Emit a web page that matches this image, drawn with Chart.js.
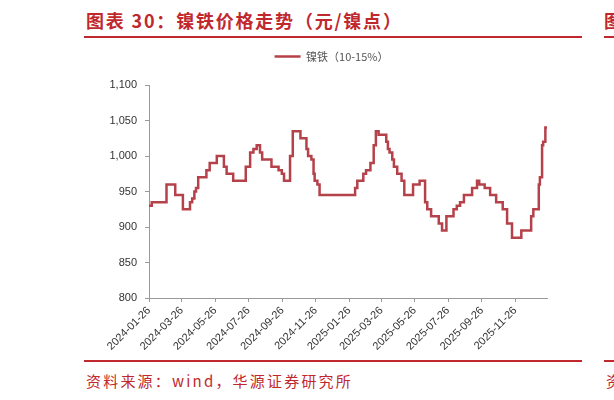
<!DOCTYPE html>
<html>
<head>
<meta charset="utf-8">
<script src="https://cdn.jsdelivr.net/npm/chart.js@4.4.1/dist/chart.umd.min.js"></script>
<style>
  html, body { margin: 0; padding: 0; background: #fff; }
  body { width: 614px; height: 400px; position: relative; overflow: hidden; }
  .title { position: absolute; left: 86px; top: 7px; font-family: "Noto Sans CJK SC", sans-serif; font-size: 18px; font-weight: 700; letter-spacing: 1.8px; color: #c0282e; white-space: nowrap; }
  .rule { position: absolute; height: 2px; background: #c0282e; }
  .source { position: absolute; left: 86px; top: 370px; font-family: "Noto Sans CJK SC", sans-serif; font-size: 15px; letter-spacing: 2.2px; color: #c0282e; white-space: nowrap; }
  #wrap { position: absolute; left: 0; top: 40px; width: 614px; height: 320px; }
</style>
</head>
<body>
<div class="title">图表 30：镍铁价格走势（元/镍点）</div>
<div class="rule" style="left:84px; top:36px; width:498px;"></div>
<div class="title" style="left:604px;">图表 31</div>
<div class="rule" style="left:604px; top:36px; width:20px;"></div>
<div id="wrap"><canvas id="chart"></canvas></div>
<div class="rule" style="left:84px; top:360px; width:498px;"></div>
<div class="rule" style="left:604px; top:360px; width:20px;"></div>
<div class="source">资料来源：wind，华源证券研究所</div>
<div class="source" style="left:606px;">资料来源</div>
<script>
const seriesName = '镍铁（10-15%）';

// price change dates and the price from that date on
const changeDates = [
  '2024-01-26', '2024-01-31', '2024-02-27', '2024-03-14', '2024-03-28', '2024-04-10',
  '2024-04-14', '2024-04-18', '2024-04-21', '2024-04-25', '2024-05-10', '2024-05-16',
  '2024-05-29', '2024-06-11', '2024-06-16', '2024-06-28', '2024-07-21', '2024-07-29',
  '2024-08-04', '2024-08-10', '2024-08-16', '2024-08-20', '2024-09-06', '2024-09-19',
  '2024-09-25', '2024-09-29', '2024-10-10', '2024-10-15', '2024-10-29', '2024-11-09',
  '2024-11-12', '2024-11-18', '2024-11-22', '2024-11-24', '2024-11-29', '2024-12-03',
  '2025-02-06', '2025-02-10', '2025-02-21', '2025-02-26', '2025-03-06', '2025-03-12',
  '2025-03-16', '2025-03-21', '2025-04-04', '2025-04-07', '2025-04-10', '2025-04-15',
  '2025-04-18', '2025-04-24', '2025-05-02', '2025-05-07', '2025-05-23', '2025-06-04',
  '2025-06-14', '2025-06-18', '2025-06-25', '2025-07-09', '2025-07-15', '2025-07-23',
  '2025-08-05', '2025-08-11', '2025-08-17', '2025-08-24', '2025-09-08', '2025-09-17',
  '2025-09-21', '2025-10-01', '2025-10-11', '2025-10-22', '2025-11-03', '2025-11-11',
  '2025-11-20', '2025-12-07', '2025-12-25', '2025-12-29', '2026-01-08', '2026-01-10',
  '2026-01-14', '2026-01-16', '2026-01-20', '2026-01-23'
];
const prices = [
  930, 935, 960, 945, 925, 935,
  940, 950, 955, 970, 980, 990,
  1000, 985, 975, 965, 985, 1005,
  1010, 1015, 1005, 995, 985, 980,
  975, 965, 1000, 1035, 1025, 1010,
  1000, 995, 975, 965, 960, 945,
  955, 965, 975, 980, 990, 1015,
  1035, 1030, 1020, 1010, 1005, 995,
  985, 975, 965, 945, 960, 965,
  935, 925, 915, 905, 895, 915,
  925, 930, 935, 945, 955, 965,
  960, 955, 945, 935, 925, 905,
  885, 895, 915, 925, 960, 970,
  1015, 1020, 1040, 1040
];

const tickLabels = [
  '2024-01-26', '2024-03-26', '2024-05-26', '2024-07-26', '2024-09-26', '2024-11-26',
  '2025-01-26', '2025-03-26', '2025-05-26', '2025-07-26', '2025-09-26', '2025-11-26'
];
const yTicks = [800, 850, 900, 950, 1000, 1050, 1100];

const startDate = tickLabels[0];
function dayNum(s) {
  const [a, b] = [s, startDate].map(d => {
    const p = d.split('-').map(Number);
    return Date.UTC(p[0], p[1] - 1, p[2]);
  });
  return Math.round((a - b) / 86400000);
}

const points = changeDates.map((d, i) => ({ x: dayNum(d), y: prices[i] }));
const tickDays = tickLabels.map(dayNum);
const lastDay = dayNum(changeDates[changeDates.length - 1]);

const axisColor = '#9a9a9a';
const tickFont = { family: '"Liberation Sans", Arial, sans-serif', size: 11 };

// legend sits a bit right of centre and closer to the top than the plot
const legendOffset = {
  id: 'legendOffset',
  afterLayout(chart) {
    const lg = chart.legend;
    lg.left += 58; lg.right += 58;
    lg.top -= 13; lg.bottom -= 13;
  }
};

new Chart(document.getElementById('chart'), {
  type: 'line',
  data: {
    datasets: [{
      label: seriesName,
      data: points,
      stepped: 'before',
      borderColor: '#b5424a',
      backgroundColor: '#b5424a',
      borderWidth: 2.5,
      pointRadius: 0,
      pointStyle: 'line',
      fill: false
    }]
  },
  options: {
    responsive: true,
    maintainAspectRatio: false,
    animation: false,
    layout: { padding: { left: 0, right: 67, top: 14, bottom: 0 } },
    plugins: {
      legend: {
        display: true,
        position: 'top',
        labels: {
          usePointStyle: true,
          pointStyleWidth: 26,
          color: '#555',
          font: { family: '"Noto Sans CJK SC", sans-serif', size: 11 },
          padding: 10
        }
      },
      tooltip: { enabled: false }
    },
    scales: {
      x: {
        type: 'linear',
        min: 0,
        max: lastDay,
        afterBuildTicks: s => { s.ticks = tickDays.map(v => ({ value: v })); },
        afterFit: s => { s.height = 62; },
        border: { color: axisColor, width: 1 },
        grid: { drawOnChartArea: false, drawTicks: true, tickLength: 4, color: axisColor },
        ticks: {
          autoSkip: false,
          maxRotation: 45,
          minRotation: 45,
          color: '#333',
          font: tickFont,
          padding: 2,
          callback: v => tickLabels[tickDays.indexOf(v)]
        }
      },
      y: {
        min: 800,
        max: 1100,
        afterBuildTicks: s => { s.ticks = yTicks.map(v => ({ value: v })); },
        afterFit: s => { s.width = 149; },
        border: { color: axisColor, width: 1 },
        grid: { drawOnChartArea: false, drawTicks: true, tickLength: 4, color: axisColor },
        ticks: {
          color: '#333',
          font: tickFont,
          padding: 8,
          callback: v => v.toLocaleString('en-US')
        }
      }
    }
  },
  plugins: [legendOffset]
});
</script>
</body>
</html>
